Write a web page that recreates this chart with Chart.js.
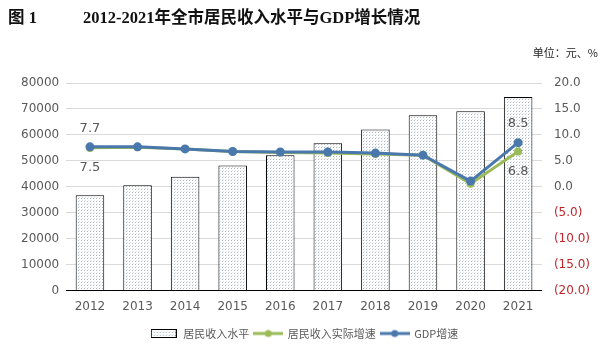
<!DOCTYPE html>
<html>
<head>
<meta charset="utf-8">
<script src="https://cdn.jsdelivr.net/npm/chart.js@4/dist/chart.umd.min.js"></script>
<style>
body { margin: 0; background: #fff; }
#wrap { position: relative; width: 604px; height: 345px; }
#chart { position: absolute; left: 0; top: 0; }
.t { position: absolute; font-family: "Liberation Serif", "Noto Sans CJK SC", serif; font-weight: bold; color: #111; white-space: nowrap; }
#fig { left: 8px; top: 4px; font-size: 16.5px; }
#title { left: 83px; top: 4px; font-size: 16.5px; }
#unit { right: 6px; top: 44px; font-size: 11px; font-weight: normal; font-family: "Noto Sans CJK SC", sans-serif; color: #222; }
</style>
</head>
<body>
<div id="wrap">
<canvas id="chart" width="604" height="345"></canvas>
<div class="t" id="fig">图 1</div>
<div class="t" id="title">2012-2021年全市居民收入水平与GDP增长情况</div>
<div class="t" id="unit">单位：元、%</div>
</div>
<script>
var years = ["2012","2013","2014","2015","2016","2017","2018","2019","2020","2021"];
var incomeLevel = [36700, 40600, 43900, 48200, 52200, 56800, 62100, 67600, 69100, 74600];
var incomeGrowth = [7.5, 7.6, 7.3, 6.8, 6.6, 6.5, 6.3, 6.1, 0.6, 6.8];
var gdpGrowth = [7.7, 7.7, 7.3, 6.8, 6.7, 6.7, 6.5, 6.1, 1.1, 8.5];

var blue = "#4a78ad";
var green = "#9bbb59";
var grey = "#595959";

// dotted fill for the bars
function dotPattern() {
    var c = document.createElement("canvas");
    c.width = 3; c.height = 3;
    var x = c.getContext("2d");
    x.fillStyle = "#ffffff";
    x.fillRect(0, 0, 3, 3);
    x.fillStyle = "#a9b6c2";
    x.fillRect(0, 0, 1, 1);
    x.fillStyle = "#dde3e8";
    x.fillRect(1, 2, 1, 1);
    return x.createPattern(c, "repeat");
}
var pat = dotPattern();

function barIcon() {
    var c = document.createElement("canvas");
    c.width = 26; c.height = 9;
    var x = c.getContext("2d");
    x.fillStyle = pat;
    x.fillRect(0, 0, 26, 9);
    x.strokeStyle = "#000";
    x.lineWidth = 1;
    x.strokeRect(0.5, 0.5, 25, 8);
    return c;
}
function lineIcon(col) {
    var c = document.createElement("canvas");
    c.width = 30; c.height = 10;
    var x = c.getContext("2d");
    x.strokeStyle = col;
    x.lineWidth = 3;
    x.beginPath(); x.moveTo(0, 5); x.lineTo(30, 5); x.stroke();
    x.fillStyle = col;
    x.beginPath(); x.arc(15, 5, 3.5, 0, Math.PI * 2); x.fill();
    return c;
}
var icons = [barIcon(), lineIcon(green), lineIcon(blue)];

var endLabels = {
    id: "endLabels",
    afterDatasetsDraw: function (chart) {
        var ctx = chart.ctx;
        ctx.save();
        ctx.font = "13px 'DejaVu Sans', sans-serif";
        ctx.fillStyle = grey;
        ctx.textAlign = "center";
        ctx.textBaseline = "middle";
        var g = chart.getDatasetMeta(2).data;
        var r = chart.getDatasetMeta(1).data;
        var last = years.length - 1;
        ctx.fillText(gdpGrowth[0].toFixed(1), g[0].x, g[0].y - 18);
        ctx.fillText(incomeGrowth[0].toFixed(1), r[0].x, r[0].y + 20);
        ctx.fillText(gdpGrowth[last].toFixed(1), g[last].x, g[last].y - 19);
        ctx.fillText(incomeGrowth[last].toFixed(1), r[last].x, r[last].y + 20);
        ctx.restore();
    }
};

var ctx = document.getElementById("chart").getContext("2d");
var chart = new Chart(ctx, {
    type: "bar",
    data: {
        labels: years,
        datasets: [{
            type: "bar",
            label: "居民收入水平",
            data: incomeLevel,
            backgroundColor: pat,
            borderColor: "#000",
            borderWidth: 1,
            barPercentage: 0.6,
            categoryPercentage: 1,
            yAxisID: "y",
            order: 3
        }, {
            type: "line",
            label: "居民收入实际增速",
            data: incomeGrowth,
            borderColor: green,
            backgroundColor: green,
            borderWidth: 3,
            pointRadius: 4,
            pointBorderWidth: 0,
            yAxisID: "y1",
            order: 2
        }, {
            type: "line",
            label: "GDP增速",
            data: gdpGrowth,
            borderColor: blue,
            backgroundColor: blue,
            borderWidth: 3,
            pointRadius: 4.5,
            pointBorderWidth: 0,
            yAxisID: "y1",
            order: 1
        }]
    },
    options: {
        responsive: false,
        animation: false,
        layout: { padding: { top: 83, left: 14, right: 10, bottom: -4 } },
        plugins: {
            tooltip: { enabled: false },
            legend: {
                position: "bottom",
                labels: {
                    usePointStyle: true,
                    pointStyleWidth: 28,
                    boxHeight: 10,
                    padding: 5,
                    color: grey,
                    font: { size: 11, family: "'Noto Sans CJK SC', sans-serif" },
                    generateLabels: function (chart) {
                        return chart.data.datasets.map(function (ds, i) {
                            return {
                                text: ds.label,
                                pointStyle: icons[i],
                                datasetIndex: i,
                                fillStyle: "transparent",
                                strokeStyle: "transparent",
                                lineWidth: 0,
                                fontColor: grey
                            };
                        });
                    }
                }
            }
        },
        scales: {
            x: {
                grid: { display: false },
                border: { color: "#000", width: 1 },
                ticks: { color: grey, font: { size: 12, family: "'DejaVu Sans', sans-serif" }, padding: 1 },
                afterFit: function (s) { s.height += 8; }
            },
            y: {
                position: "left",
                min: 0,
                max: 80000,
                ticks: {
                    stepSize: 10000, color: grey, padding: 7,
                    font: { size: 12, family: "'DejaVu Sans', sans-serif" },
                    callback: function (v) { return String(v); }
                },
                grid: { color: "#d9d9d9", drawTicks: false },
                border: { display: false }
            },
            y1: {
                position: "right",
                min: -20,
                max: 20,
                ticks: {
                    stepSize: 5,
                    padding: 4,
                    font: { size: 12, family: "'DejaVu Sans', sans-serif" },
                    color: function (c) { return c.tick.value < 0 ? "#c0272d" : grey; },
                    callback: function (v) { return v < 0 ? "(" + Math.abs(v).toFixed(1) + ")" : v.toFixed(1); }
                },
                grid: { display: false },
                border: { display: false }
            }
        }
    },
    plugins: [endLabels]
});
</script>
</body>
</html>
